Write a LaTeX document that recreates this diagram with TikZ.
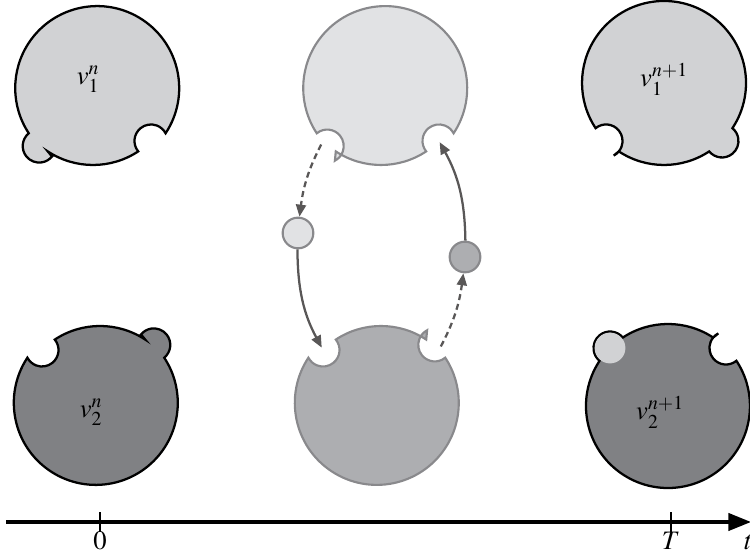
\documentclass[tikz,border=0pt]{standalone}
\usepackage{mathptmx}
\usetikzlibrary{arrows.meta,calc}
\definecolor{fillA}{RGB}{209,210,212}
\definecolor{fillB}{RGB}{128,129,132}
\definecolor{fillC}{RGB}{225,226,228}
\definecolor{fillD}{RGB}{173,174,177}
\definecolor{strokeG}{RGB}{137,137,140}
\definecolor{arrowG}{RGB}{89,87,87}
% #1 style, #2 centre, #3 angle A, #4 sign A (+1 bump, -1 notch), #5 angle B, #6 sign B
\newcommand{\blob}[6]{%
  \path[#1] (#2) ++({#3+11.54}:82)
    arc[start angle={#3+11.54}, end angle={#5-11.54}, radius=82]
    arc[start angle={#5-95.77}, delta angle={#6*191.54}, radius=16.5]
    arc[start angle={#5+11.54}, end angle={#3+348.46}, radius=82]
    arc[start angle={#3-95.77}, delta angle={#4*191.54}, radius=16.5]
    -- cycle;}
\begin{document}
\begin{tikzpicture}[x=0.75pt,y=0.75pt,
  darkline/.style={line width=1.7pt,draw=black},
  grayline/.style={line width=1.6pt,draw=strokeG},
  small/.style={circle,inner sep=0pt,minimum size=23pt,line width=1.6pt,draw=strokeG},
  solidarrow/.style={line width=1.7pt,draw=arrowG,-{Triangle[length=9pt,width=7.5pt]}},
  dasharrow/.style={solidarrow,dash pattern=on 4.5pt off 3pt},
  axis/.style={line width=2.4pt,-{Triangle[length=17pt,width=13pt]}},
  tick/.style={line width=1.6pt},
  lbl/.style={font=\fontsize{20}{24}\selectfont,inner sep=0pt}]
\useasboundingbox (0,0) rectangle (750,555);
% centres
\coordinate (TL) at (93,472);
\coordinate (TM) at (381,472);
\coordinate (TR) at (664,472);
\coordinate (BL) at (100,147);
\coordinate (BM) at (381,147);
\coordinate (BR) at (668,149);
% big discs
\blob{darkline,fill=fillA}{TL}{225}{1}{315}{-1}
\blob{grayline,fill=fillC}{TM}{225}{-1}{315}{-1}
\blob{darkline,fill=fillA}{TR}{225}{-1}{315}{1}
\blob{darkline,fill=fillB}{BL}{45}{1}{135}{-1}
\blob{grayline,fill=fillD}{BM}{45}{-1}{135}{-1}
\blob{darkline,fill=fillB}{BR}{45}{-1}{135}{1}
\fill[fillA] (BR) ++(135:82) circle[radius=15.4];
% notch centres
\coordinate (tmL) at ($(TM)+(225:82)$);
\coordinate (tmR) at ($(TM)+(315:82)$);
\coordinate (bmL) at ($(BM)+(135:82)$);
\coordinate (bmR) at ($(BM)+(45:82)$);
% labels
\node[lbl] (l1) at (88,476) {$v_1^{n}$};
\node[lbl] (l2) at (664,476) {$v_1^{n+1}$};
\node[lbl] (l3) at (91,143) {$v_2^{n}$};
\node[lbl] (l4) at (660,143) {$v_2^{n+1}$};
% small circles
\node[small,fill=fillC] (sL) at (298,322) {};
\node[small,fill=fillD] (sR) at (465,298) {};
% arrows
\draw[dasharrow,shorten <=3pt] (tmL) to[bend right=10] (sL);
\draw[solidarrow,shorten >=2pt] (sL) to[bend right=14] (bmL);
\draw[dasharrow,shorten <=3pt] (bmR) to[bend right=10] (sR);
\draw[solidarrow,shorten >=1pt] (sR) to[bend right=14] (tmR);
% time axis
\coordinate (ax0) at (6,33);
\coordinate (ax1) at (751,33);
\draw[axis] (ax0) -- (ax1);
\coordinate (t0) at (100,33);
\coordinate (tT) at (671,33);
\draw[tick] ($(t0)+(0,-10)$) -- ($(t0)+(0,10)$);
\draw[tick] ($(tT)+(0,-10)$) -- ($(tT)+(0,10)$);
\node[lbl] (z0) at (100,14) {$0$};
\node[lbl] (zT) at (671,14) {$T$};
\node[lbl,anchor=west] (zt) at (744,13) {$t$};
\end{tikzpicture}
\end{document}
